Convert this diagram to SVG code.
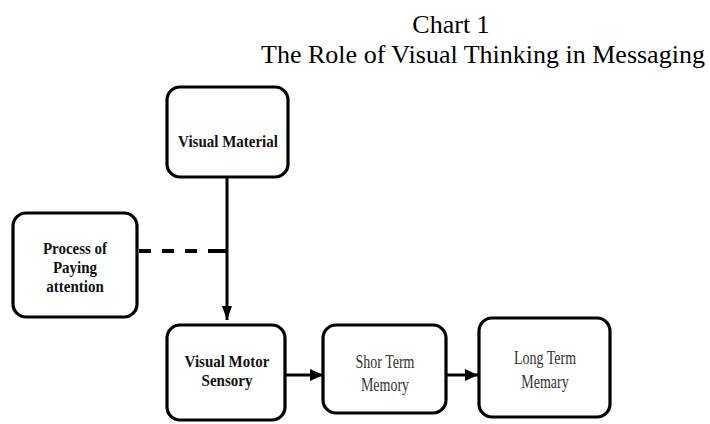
<svg xmlns="http://www.w3.org/2000/svg" width="710" height="424" viewBox="0 0 710 424">
<style>
.box{fill:#fff;stroke:#000;stroke-width:3.2}
.b{font-family:"Liberation Serif",serif;font-weight:bold;font-size:15px;text-anchor:middle;fill:#111}
.r{font-family:"Liberation Serif",serif;font-size:14px;text-anchor:middle;fill:#333}
.t{font-family:"Liberation Serif",serif;font-size:26px;text-anchor:middle;fill:#000}
.ln{stroke:#000;stroke-width:3;fill:none}
</style>
<defs>
<marker id="ah" markerWidth="13" markerHeight="12" refX="13" refY="6" orient="auto" markerUnits="userSpaceOnUse" viewBox="0 0 13 12">
<path d="M0,0 L13,6 L0,12 z" fill="#000"/>
</marker>
<marker id="av" markerWidth="14" markerHeight="10" refX="14" refY="5" orient="auto" markerUnits="userSpaceOnUse" viewBox="0 0 14 10">
<path d="M0,0 L14,5 L0,10 z" fill="#000"/>
</marker>
</defs>
<rect width="710" height="424" fill="#fff"/>
<g id="title">
<text class="t" x="451" y="33">Chart 1</text>
<text class="t" x="483" y="63">The Role of Visual Thinking in Messaging</text>
</g>
<g id="connectors">
<path class="ln" d="M227,177 V320" marker-end="url(#av)"/>
<path d="M139,251 H227" stroke="#000" stroke-width="4" stroke-dasharray="12 11 12 11 12 11 20"/>
<path class="ln" d="M286,375 H323" marker-end="url(#ah)"/>
<path class="ln" d="M447,375 H478" marker-end="url(#ah)"/>
</g>
<g id="visual-material">
<rect class="box" x="167" y="87" width="121" height="90" rx="13"/>
<text class="b" transform="translate(228,147) scale(1,1.15)">Visual Material</text>
</g>
<g id="process">
<rect class="box" x="13" y="213" width="124" height="104" rx="13"/>
<text class="b" transform="translate(75,254) scale(1,1.1)">Process of</text>
<text class="b" transform="translate(75,273) scale(1,1.1)">Paying</text>
<text class="b" transform="translate(75,292) scale(1,1.1)">attention</text>
</g>
<g id="visual-motor">
<rect class="box" x="167" y="325" width="118" height="95" rx="13"/>
<text class="b" transform="translate(227,367) scale(1,1.1)">Visual Motor</text>
<text class="b" transform="translate(227,386) scale(1,1.1)">Sensory</text>
</g>
<g id="short-term">
<rect class="box" x="323" y="325" width="123" height="88" rx="13"/>
<text class="r" transform="translate(385,368) scale(1,1.35)">Shor Term</text>
<text class="r" transform="translate(385,391) scale(1,1.35)">Memory</text>
</g>
<g id="long-term">
<rect class="box" x="479" y="318" width="131" height="99" rx="13"/>
<text class="r" transform="translate(545,364) scale(1,1.35)">Long Term</text>
<text class="r" transform="translate(545,388) scale(1,1.35)">Memary</text>
</g>
</svg>
